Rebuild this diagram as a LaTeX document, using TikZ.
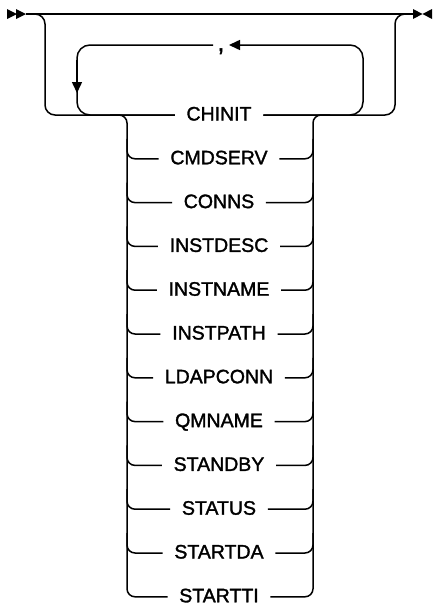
\documentclass[tikz,border=0pt]{standalone}
\usepackage{fontspec}
\setmainfont{Liberation Sans}
\newfontfamily\railfont[FakeBold=1.6]{Liberation Sans}
\usetikzlibrary{arrows.meta,calc}
\begin{document}
\begin{tikzpicture}[x=1pt,y=-1pt,line width=1.5pt,
  item/.style={font=\railfont\fontsize{19.5}{20}\selectfont,inner xsep=11pt,inner ysep=0pt,text height=14pt,text depth=3pt},
  sep/.style={font=\railfont\fontsize{24}{24}\selectfont,inner sep=0pt,anchor=base},
  tipd/.style={-{Triangle[length=11pt,width=10pt]}},
  rc/.style={rounded corners=8pt}]
\useasboundingbox (0,0) rectangle (433,605);
% start and end marks
\fill (7,9) -- (17,14) -- (7,19) -- cycle;
\fill (16,9) -- (26,14) -- (16,19) -- cycle;
\fill (413,9) -- (422.5,14) -- (413,19) -- cycle;
\fill (432,9) -- (422.5,14) -- (432,19) -- cycle;
\coordinate (S) at (26,14);
\coordinate (E) at (413,14);
\coordinate (LB) at (45,115);
\coordinate (RB) at (395,115);
\draw (S) -- (E);
% items
\foreach \nm [count=\k from 0] in {CHINIT,CMDSERV,CONNS,INSTDESC,INSTNAME,INSTPATH,LDAPCONN,QMNAME,STANDBY,STATUS,STARTDA,STARTTI}{
  \pgfmathsetmacro\yy{115+43.8*\k}
  \node[item] (i\k) at (219,\yy) {\nm};
  \coordinate (u\k) at (127,\yy-20);
  \coordinate (v\k) at (313,\yy-20);
}
% bypass
\draw[rounded corners=10pt] (S) -| (LB) -- (i0.west);
\draw[rounded corners=10pt] (i0.east) -- (RB) |- (E);
% repeat loop
\coordinate (LL) at (77,115);
\coordinate (LR) at (363,115);
\node[sep] (comma) at (221,51) {,};
\coordinate (cL) at (213,45);
\coordinate (cR) at (229,45);
\draw[tipd,rounded corners=13pt] (i0.east) -- (LR) |- (cR);
\draw[rounded corners=13pt] (cL) -| (LL) -- (i0.west);
\coordinate (la0) at (77,60);
\coordinate (la) at (77,93);
\draw[tipd] (la0) -- (la);
% branch rails
\coordinate (pre) at (110,115);
\coordinate (post) at (330,115);
\coordinate (VLt) at (127,115);
\coordinate (VRt) at (313,115);
\coordinate (VLb) at (127,596.8);
\coordinate (VRb) at (313,596.8);
\draw[rc] (pre) -- (VLt) -- (VLb) -- (i11.west);
\draw[rc] (post) -- (VRt) -- (VRb) -- (i11.east);
\foreach \k in {1,...,10}{
  \draw[rc] (i\k.west) -| (u\k);
  \draw[rc] (i\k.east) -| (v\k);
}
\end{tikzpicture}
\end{document}
